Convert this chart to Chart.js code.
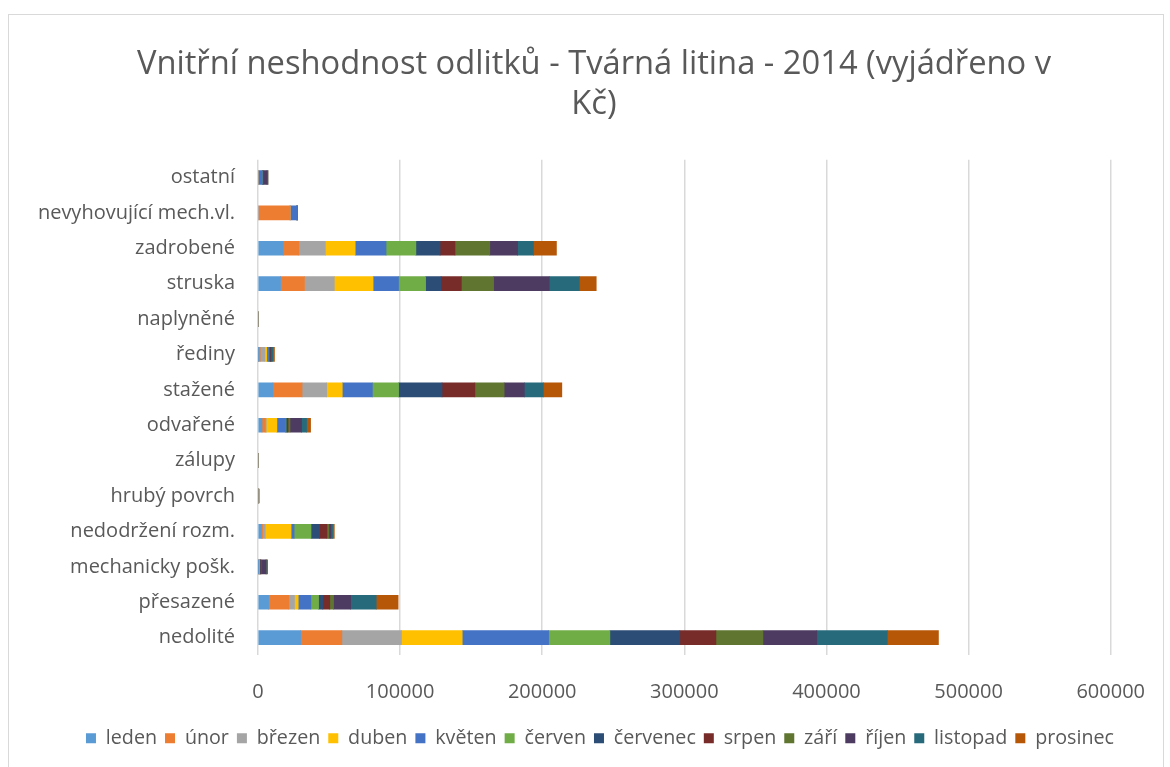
<!DOCTYPE html>
<html>
<head>
<meta charset="utf-8">
<script src="https://cdn.jsdelivr.net/npm/chart.js@4.4.1/dist/chart.umd.min.js"></script>
<style>
  html, body { margin: 0; padding: 0; background: #ffffff; }
  #wrap { position: relative; width: 1170px; height: 767px; overflow: hidden; }
  #frame { position: absolute; left: 8px; top: 14px; width: 1156px; height: 780px; border: 1px solid #d9d9d9; box-sizing: border-box; }
  canvas { position: absolute; left: 0; top: 0; }
</style>
</head>
<body>
<div id="wrap">
  <div id="frame"></div>
  <canvas id="c" width="1170" height="767"></canvas>
</div>
<script>
const categories = ["ostatní","nevyhovující mech.vl.","zadrobené","struska","naplyněné","řediny","stažené","odvařené","zálupy","hrubý povrch","nedodržení rozm.","mechanicky pošk.","přesazené","nedolité"];
const months = ["leden","únor","březen","duben","květen","červen","červenec","srpen","září","říjen","listopad","prosinec"];
const xTicks = [0, 100000, 200000, 300000, 400000, 500000, 600000];

const leden    = [0,     0, 17700, 15900, 0,  300, 10500, 2800, 0,   0,  2300,  300,  7500, 30000];
const unor     = [0, 22600, 11000, 16800, 0, 1200, 20500, 2300, 0,   0,   900,    0, 14200, 29000];
const brezen   = [0,     0, 18700, 21000, 0, 3300, 17300,  700, 0,   0,  1900,  500,  4000, 42000];
const duben    = [0,     0, 21000, 27300, 0, 1400, 11000, 7500, 0,   0, 18200,    0,  2600, 42700];
const kveten   = [3000, 4900, 21700, 17900, 0, 1200, 21200, 6100, 0,   0,  2100,    0,  8900, 60800];
const cerven   = [0,     0, 21000, 19000, 0,  300, 18400,  300, 0,   0, 11900,  400,  5400, 43100];
const cervenec = [0,     0, 17000, 10900, 0,  800, 30600,  700, 0,   0,  6100,  300,  3000, 49200];
const srpen    = [500,   0, 10500, 14300, 0,  300, 23100,  700, 0,   0,  5100,  300,  4900, 25400];
const zari     = [0,     0, 24500, 22600, 0,  300, 20600, 1400, 0,   0,  1400,  300,  2600, 33100];
const rijen    = [2800,  0, 19600, 39200, 0,  300, 14200, 8200, 0,   0,  1400, 3500, 12100, 37900];
const listopad = [700,   0, 11200, 21200, 0, 1000, 13500, 3500, 0, 700,  1200,  300, 18000, 49600];
const prosinec = [0,     0, 16100, 11900, 0, 1200, 12900, 2800, 0,   0,  1200,  900, 15400, 36000];

const series = [leden, unor, brezen, duben, kveten, cerven, cervenec, srpen, zari, rijen, listopad, prosinec];
const colors = ["#5B9BD5","#ED7D31","#A5A5A5","#FFC000","#4472C4","#70AD47","#2C4D75","#772C2A","#5F7530","#4D3B62","#276A7C","#B65708"];

const FONT = "'Open Sans', 'Noto Sans', sans-serif";
const TXT = "#595959";

// Re-center title and legend over the whole chart frame (not just left of the right padding)
const recenter = {
  id: 'recenter',
  afterLayout(chart) {
    if (chart.titleBlock) { chart.titleBlock.left = 18; chart.titleBlock.right = 1170; chart.titleBlock.width = 1152; }
    if (chart.legend) { chart.legend.left = 30; chart.legend.right = 1170; chart.legend.width = 1140; }
  }
};

new Chart(document.getElementById('c'), {
  type: 'bar',
  data: {
    labels: categories,
    datasets: months.map((m, i) => ({
      label: m,
      data: series[i],
      backgroundColor: colors[i],
      borderWidth: 0,
      barThickness: 14
    }))
  },
  plugins: [recenter],
  options: {
    indexAxis: 'y',
    responsive: false,
    animation: false,
    layout: { padding: { left: 0, right: 55, top: 0, bottom: 9 } },
    plugins: {
      title: {
        display: true,
        text: ["Vnitřní neshodnost odlitků - Tvárná litina - 2014 (vyjádřeno v", "Kč)"],
        color: TXT,
        font: { family: FONT, size: 32.7, weight: 'normal', lineHeight: 1.22 },
        padding: { top: 45, bottom: 35 }
      },
      legend: {
        position: 'bottom',
        labels: {
          color: TXT,
          font: { family: FONT, size: 19.7 },
          boxWidth: 10,
          boxHeight: 10,
          padding: 8
        }
      },
      tooltip: { enabled: false }
    },
    scales: {
      x: {
        stacked: true,
        min: 0,
        max: 600000,
        afterBuildTicks: (scale) => { scale.ticks = xTicks.map(v => ({ value: v })); },
        afterFit: (scale) => { scale.height = 65; },
        ticks: { color: TXT, font: { family: FONT, size: 20 }, padding: 25, maxRotation: 0,
                 callback: (v) => String(v) },
        grid: { color: '#d9d9d9', lineWidth: 1.5, drawTicks: false },
        border: { display: false }
      },
      y: {
        stacked: true,
        afterFit: (scale) => { scale.width = 258; },
        ticks: { color: TXT, font: { family: FONT, size: 20 }, padding: 23 },
        grid: { display: false, drawTicks: false },
        border: { display: false }
      }
    }
  }
});
</script>
</body>
</html>
